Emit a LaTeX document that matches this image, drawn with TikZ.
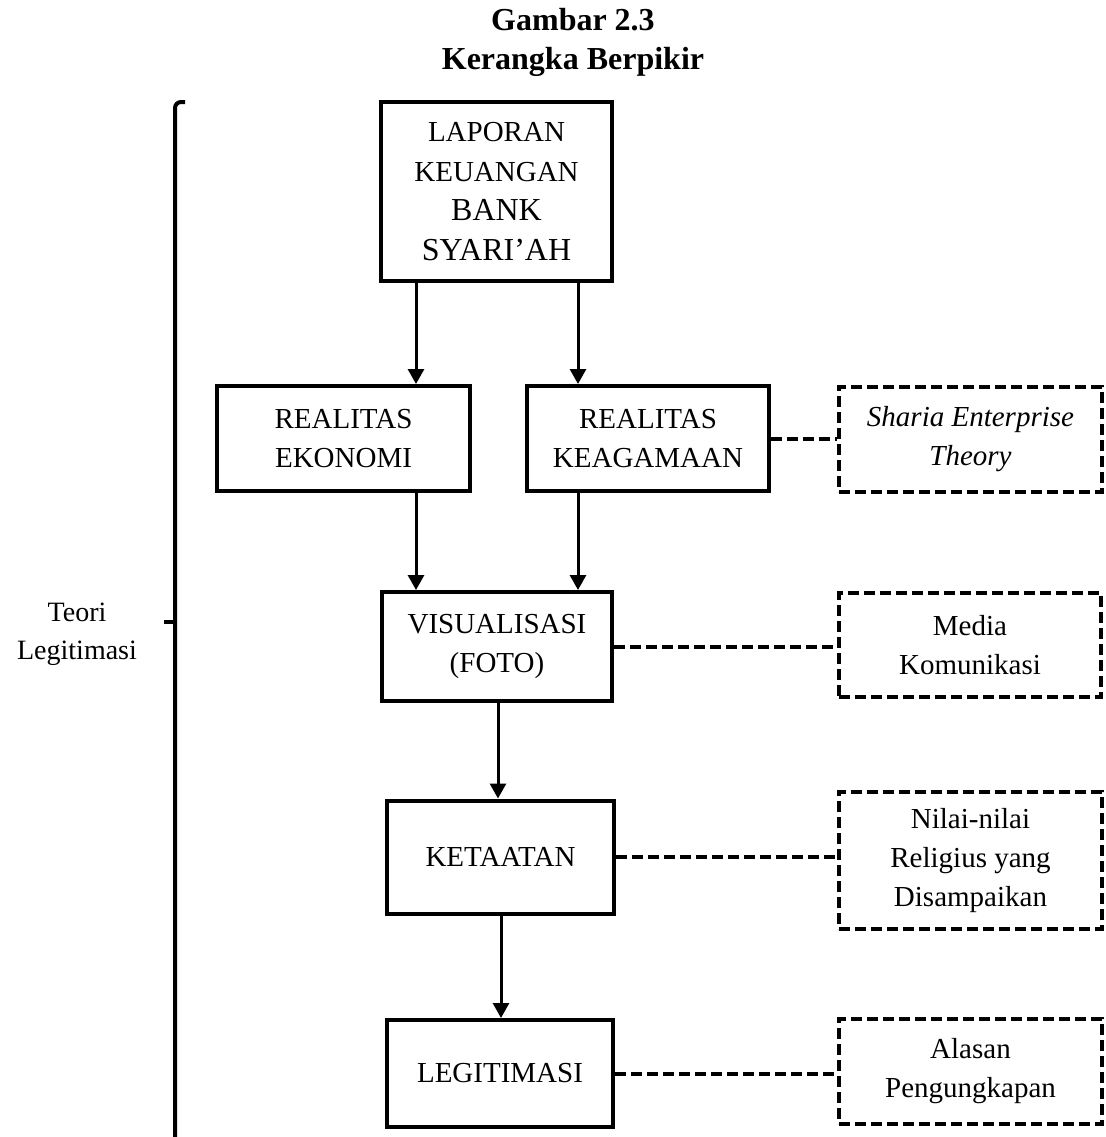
\documentclass[tikz,border=0pt]{standalone}
\usepackage{fontspec}
\setmainfont{Liberation Serif}
\usetikzlibrary{arrows.meta}
\begin{document}
\begin{tikzpicture}[x=0.5pt,y=-0.5pt,
  box/.style={draw, line width=2pt, align=center, inner sep=0pt, font=\fontsize{14.5}{19.75}\selectfont},
  dbox/.style={draw, line width=2pt, dash pattern=on 5.5pt off 2.5pt, align=center, inner sep=0pt, font=\fontsize{14.5}{19.5}\selectfont},
  arr/.style={line width=1.5pt, -{Triangle[width=8pt,length=7.5pt]}},
  dline/.style={line width=2pt, dash pattern=on 5.5pt off 2.5pt},
  brk/.style={line width=2pt}]
\useasboundingbox (0,0) rectangle (1106,1137);
% title
\node[align=center, font=\bfseries\fontsize{16}{19.5}\selectfont] (title) at (573,42.5) {Gambar 2.3\\Kerangka Berpikir};
% boxes
\node[box, minimum width=115.5pt, minimum height=89.5pt] (lap) at (496.5,191.5)
  {LAPORAN\\KEUANGAN\\{\fontsize{16}{21}\selectfont BANK}\\{\fontsize{16}{21}\selectfont SYARI’AH}};
\node[box, minimum width=126.5pt, minimum height=52.5pt] (eko) at (343.5,438.5) {REALITAS\\EKONOMI};
\node[box, minimum width=121pt, minimum height=52.5pt] (kea) at (648,438.5) {REALITAS\\KEAGAMAAN};
\node[dbox, minimum width=131.5pt, minimum height=52.5pt] (sha) at (970.5,439.5) {\itshape Sharia Enterprise\\\itshape Theory};
\node[box, minimum width=115pt, minimum height=54.5pt] (vis) at (497,646.5) {VISUALISASI\\(FOTO)};
\node[dbox, minimum width=131pt, minimum height=52pt] (med) at (970,645) {Media\\Komunikasi};
\node[box, minimum width=113.5pt, minimum height=56.5pt] (ket) at (500.5,857) {KETAATAN};
\node[dbox, minimum width=131.5pt, minimum height=68.5pt] (nil) at (970.5,860.5) {Nilai-nilai\\Religius yang\\Disampaikan};
\node[box, minimum width=113pt, minimum height=53.5pt] (leg) at (500,1073.5) {LEGITIMASI};
\node[dbox, minimum width=131.5pt, minimum height=52.5pt] (ala) at (970.5,1071.5) {Alasan\\Pengungkapan};
% left label
\node[align=center, font=\fontsize{14}{19}\selectfont] (teori) at (77,634) {Teori\\Legitimasi};
% connector x positions
\coordinate (c1) at (416,0);
\coordinate (c2) at (578,0);
\coordinate (c3) at (498,0);
\coordinate (c4) at (501,0);
% arrows
\draw[arr] (lap.south -| c1) -- (eko.north -| c1);
\draw[arr] (lap.south -| c2) -- (kea.north -| c2);
\draw[arr] (eko.south -| c1) -- (vis.north -| c1);
\draw[arr] (kea.south -| c2) -- (vis.north -| c2);
\draw[arr] (vis.south -| c3) -- (ket.north -| c3);
\draw[arr] (ket.south -| c4) -- (leg.north -| c4);
% dashed links
\draw[dline] (kea.east) -- (kea.east -| sha.west);
\draw[dline] (vis.east) -- (vis.east -| med.west);
\draw[dline] (ket.east) -- (ket.east -| nil.west);
\draw[dline] (leg.east) -- (leg.east -| ala.west);
% bracket
\draw[brk, rounded corners=3pt] (185,102) -- (175,102) -- (175,1140);
\draw[brk] (164,622) -- (175,622);
\end{tikzpicture}
\end{document}
